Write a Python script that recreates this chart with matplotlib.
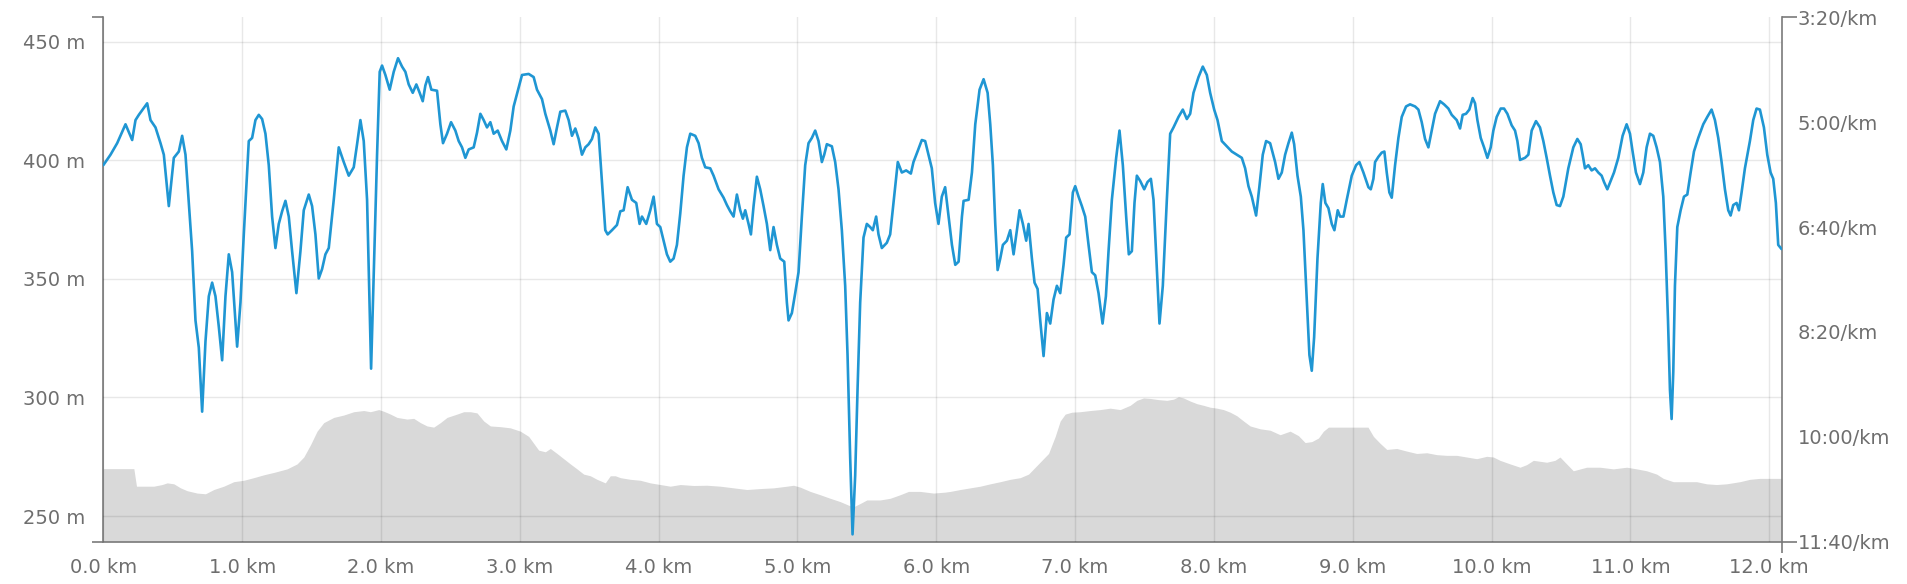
import matplotlib
matplotlib.use("Agg")
import matplotlib.pyplot as plt
import numpy as np
from matplotlib.ticker import FixedLocator, FuncFormatter

# ---------------- data ----------------
# Elevation profile (km, m)
elev_km_a = [0.0, 0.22, 0.239, 0.292, 0.364, 0.424, 0.46, 0.508, 0.556, 0.604,
             0.676, 0.736, 0.796, 0.868, 0.94, 1.012, 1.084, 1.156, 1.228, 1.324,
             1.396, 1.444, 1.492, 1.54, 1.588, 1.66, 1.732, 1.804, 1.876, 1.924,
             1.984, 2.02, 2.068, 2.116, 2.188, 2.236, 2.284, 2.332, 2.38, 2.428,
             2.476, 2.548, 2.596, 2.644, 2.692, 2.74, 2.788, 2.86, 2.932, 3.004,
             3.064]
elev_m_a = [270, 270, 262.6, 262.6, 262.6, 263.3, 264.0, 263.6, 261.9, 260.7,
            259.7, 259.4, 261.2, 262.6, 264.5, 265.1, 266.2, 267.4, 268.4, 269.9,
            272.0, 274.9, 280.0, 285.8, 289.4, 291.6, 292.6, 294.0, 294.5, 294.0,
            294.9, 294.2, 293.0, 291.6, 290.9, 291.2, 289.4, 288.0, 287.5, 289.4,
            291.6, 293.0, 294.0, 294.0, 293.5, 290.1, 288.0, 287.7, 287.2, 285.8,
            283.6]
elev_km_b = [3.136, 3.184, 3.22, 3.268, 3.316, 3.364, 3.412, 3.46, 3.508, 3.556,
             3.616, 3.652, 3.688, 3.724, 3.796, 3.868, 3.94, 4.012, 4.084, 4.156,
             4.252, 4.348, 4.444, 4.54, 4.636, 4.732, 4.828, 4.924, 4.972, 5.02,
             5.092, 5.164, 5.236, 5.308, 5.368, 5.404, 5.452, 5.50, 5.596, 5.668,
             5.74, 5.80, 5.884, 5.98, 6.064]
elev_m_b = [277.8, 277.1, 278.5, 276.4, 274.2, 272.0, 269.9, 267.7, 267.0, 265.5,
            264.0, 267.0, 267.0, 266.2, 265.5, 265.1, 264.0, 263.3, 262.6, 263.3,
            262.9, 263.0, 262.6, 261.9, 261.2, 261.6, 261.9, 262.6, 263.0, 262.2,
            260.4, 259.0, 257.5, 256.1, 254.6, 253.9, 255.3, 256.8, 256.8, 257.5,
            259.0, 260.4, 260.4, 259.7, 260.1]
elev_km_c = [6.101, 6.173, 6.245, 6.317, 6.389, 6.461, 6.533, 6.605, 6.665, 6.713,
             6.761, 6.809, 6.857, 6.893, 6.929, 6.977, 7.037, 7.109, 7.181, 7.253,
             7.325, 7.397, 7.445, 7.493, 7.541, 7.601, 7.661, 7.709, 7.745, 7.781,
             7.829, 7.877, 7.925, 7.973, 8.021, 8.069, 8.117, 8.165, 8.213, 8.261,
             8.333, 8.405, 8.477, 8.549, 8.609, 8.657, 8.705, 8.753, 8.789, 8.825,
             8.909, 9.005, 9.11]
elev_m_c = [260.4, 261.2, 261.9, 262.6, 263.6, 264.5, 265.5, 266.2, 267.7, 270.6,
            273.5, 276.4, 283.6, 290.1, 293.0, 293.8, 294.0, 294.5, 294.9, 295.5,
            294.9, 296.7, 298.8, 299.8, 299.6, 299.1, 298.8, 299.3, 300.3, 299.8,
            298.5, 297.4, 296.7, 295.9, 295.5, 294.9, 293.8, 292.3, 290.1, 288.0,
            286.8, 286.2, 284.3, 285.8, 283.9, 281.0, 281.4, 282.9, 285.8, 287.5,
            287.5, 287.5, 287.5]
elev_km_d = [9.149, 9.197, 9.245, 9.317, 9.389, 9.461, 9.533, 9.605, 9.677, 9.749,
             9.821, 9.893, 9.965, 10.013, 10.061, 10.133, 10.205, 10.253, 10.301, 10.397,
             10.457, 10.493, 10.529, 10.589, 10.685, 10.781, 10.877, 10.973, 11.045, 11.117,
             11.189, 11.237, 11.309, 11.405, 11.477, 11.549, 11.621, 11.693, 11.789, 11.861,
             11.933, 12.005, 12.089]
elev_m_d = [283.6, 280.7, 278.1, 278.5, 277.4, 276.4, 276.7, 275.9, 275.6, 275.6,
            274.9, 274.2, 275.2, 274.9, 273.5, 272.0, 270.6, 271.7, 273.5, 272.7,
            273.5, 274.9, 272.7, 269.1, 270.6, 270.6, 269.9, 270.6, 269.9, 269.1,
            267.7, 265.9, 264.5, 264.5, 264.5, 263.6, 263.3, 263.6, 264.5, 265.5,
            265.9, 265.9, 265.9]

# Pace (km, seconds per km)
pace_km_a = [0.00, 0.052, 0.10, 0.16, 0.208, 0.232, 0.256, 0.316, 0.34, 0.376,
             0.412, 0.436, 0.472, 0.508, 0.544, 0.568, 0.592, 0.616, 0.64, 0.664,
             0.688, 0.712, 0.736, 0.76, 0.784, 0.808, 0.832, 0.856, 0.88, 0.904,
             0.928, 0.964, 0.988, 1.012, 1.048, 1.072, 1.096, 1.12, 1.144, 1.168,
             1.192, 1.216, 1.24, 1.264, 1.288, 1.312, 1.336, 1.36, 1.391, 1.42,
             1.444, 1.48, 1.504, 1.528, 1.552, 1.576, 1.60, 1.624, 1.66, 1.696,
             1.732, 1.768, 1.804, 1.828, 1.852, 1.876, 1.90, 1.929, 1.953, 1.972,
             1.991, 2.008, 2.032, 2.063, 2.092, 2.123, 2.152, 2.176, 2.20, 2.229,
             2.255, 2.279, 2.301, 2.32, 2.339, 2.363, 2.404, 2.428, 2.447, 2.476,
             2.505, 2.536, 2.56, 2.584, 2.608, 2.632, 2.668, 2.692, 2.716, 2.74,
             2.764, 2.788, 2.812, 2.841, 2.872, 2.903, 2.932, 2.956, 2.992, 3.016,
             3.064]
pace_s_a = [341, 331, 320, 302, 317, 298, 293, 282, 298, 305,
            320, 331, 380, 334, 328, 313, 331, 377, 423, 489,
            515, 576, 509, 466, 453, 466, 495, 527, 466, 426,
            443, 514, 472, 407, 318, 315, 298, 293, 297, 311,
            341, 390, 420, 397, 385, 375, 390, 423, 463, 423,
            384, 369, 380, 407, 449, 440, 426, 420, 374, 324,
            338, 351, 343, 321, 298, 318, 374, 535, 423, 331,
            252, 246, 255, 269, 252, 239, 247, 252, 264, 272,
            264, 272, 280, 265, 257, 269, 270, 302, 320, 311,
            300, 308, 318, 324, 334, 326, 324, 310, 292, 298,
            305, 300, 311, 308, 318, 326, 308, 285, 267, 255,
            254]
pace_km_b = [3.10, 3.124, 3.16, 3.184, 3.22, 3.244, 3.268, 3.292, 3.328, 3.352,
             3.376, 3.40, 3.424, 3.448, 3.472, 3.496, 3.52, 3.544, 3.568, 3.592,
             3.616, 3.633, 3.664, 3.70, 3.724, 3.748, 3.777, 3.808, 3.839, 3.863,
             3.88, 3.911, 3.94, 3.964, 3.988, 4.012, 4.036, 4.06, 4.084, 4.108,
             4.132, 4.156, 4.18, 4.204, 4.228, 4.264, 4.288, 4.312, 4.336, 4.372,
             4.396, 4.432, 4.468, 4.492, 4.516, 4.54, 4.564, 4.588, 4.607, 4.624,
             4.648, 4.665, 4.684, 4.708, 4.732, 4.756, 4.78, 4.804, 4.828, 4.852,
             4.876, 4.905, 4.924, 4.936, 4.96, 4.984, 5.008, 5.032, 5.056, 5.08,
             5.104, 5.128, 5.152, 5.176, 5.193, 5.212, 5.248, 5.272, 5.296, 5.32,
             5.344, 5.361, 5.38, 5.397, 5.416, 5.433, 5.452, 5.476, 5.50, 5.524,
             5.543, 5.567, 5.584, 5.608, 5.644, 5.668, 5.692, 5.723, 5.752, 5.783,
             5.817, 5.836, 5.865, 5.896, 5.92, 5.944, 5.968, 5.992, 6.016, 6.04,
             6.064]
pace_s_b = [257, 269, 278, 292, 308, 321, 305, 290, 289, 298,
            313, 306, 316, 331, 324, 321, 316, 305, 311, 357,
            403, 407, 403, 398, 385, 384, 362, 374, 377, 397,
            390, 397, 384, 371, 397, 400, 413, 426, 433, 430,
            417, 387, 351, 324, 311, 313, 320, 334, 343, 344,
            351, 364, 372, 379, 385, 390, 369, 384, 392, 384,
            397, 407, 380, 352, 364, 380, 397, 422, 400, 417,
            430, 433, 472, 489, 482, 463, 443, 390, 341, 320,
            315, 308, 318, 338, 331, 321, 323, 338, 364, 403,
            456, 522, 620, 693, 637, 555, 472, 410, 397, 400,
            403, 390, 407, 420, 415, 407, 377, 338, 348, 346,
            349, 338, 328, 317, 318, 331, 344, 377, 397, 371,
            362]
pace_km_c = [6.113, 6.137, 6.161, 6.185, 6.197, 6.233, 6.257, 6.281, 6.312, 6.341,
             6.37, 6.389, 6.408, 6.425, 6.442, 6.461, 6.48, 6.509, 6.533, 6.557,
             6.581, 6.60, 6.624, 6.648, 6.665, 6.689, 6.708, 6.73, 6.749, 6.773,
             6.797, 6.821, 6.845, 6.869, 6.893, 6.917, 6.936, 6.96, 6.984, 7.001,
             7.025, 7.049, 7.073, 7.097, 7.121, 7.145, 7.169, 7.198, 7.222, 7.241,
             7.265, 7.296, 7.32, 7.344, 7.368, 7.387, 7.409, 7.428, 7.445, 7.469,
             7.498, 7.522, 7.546, 7.565, 7.589, 7.608, 7.632, 7.661, 7.685, 7.709,
             7.745, 7.776, 7.805, 7.829, 7.853, 7.889, 7.92, 7.949, 7.973, 8.002,
             8.026, 8.057, 8.093, 8.129, 8.165, 8.201, 8.225, 8.249, 8.273, 8.304,
             8.328, 8.352, 8.376, 8.405, 8.441, 8.465, 8.489, 8.513, 8.537, 8.561,
             8.578, 8.602, 8.626, 8.645, 8.664, 8.688, 8.705, 8.722, 8.746, 8.77,
             8.784, 8.803, 8.825, 8.849, 8.868, 8.892, 8.909, 8.933, 8.957, 8.993,
             9.024, 9.048, 9.077, 9.113]
pace_s_c = [417, 436, 433, 390, 375, 374, 348, 302, 269, 259,
            272, 302, 341, 397, 441, 430, 417, 413, 403, 426,
            403, 384, 397, 413, 397, 430, 453, 459, 489, 523,
            482, 492, 469, 456, 463, 436, 410, 407, 367, 361,
            371, 380, 390, 417, 443, 446, 463, 492, 466, 423,
            374, 334, 308, 341, 390, 426, 423, 377, 351, 356,
            364, 357, 354, 374, 440, 492, 456, 374, 311, 305,
            295, 288, 297, 292, 272, 257, 247, 255, 272, 288,
            298, 318, 323, 328, 331, 334, 344, 361, 371, 389,
            361, 331, 318, 320, 338, 354, 348, 331, 320, 310,
            321, 351, 371, 403, 456, 522, 537, 505, 430, 377,
            359, 377, 382, 397, 403, 384, 390, 390, 374, 351,
            341, 338, 348, 362]
pace_km_d = [9.13, 9.149, 9.161, 9.185, 9.209, 9.228, 9.245, 9.264, 9.281, 9.305,
             9.329, 9.353, 9.384, 9.413, 9.449, 9.473, 9.497, 9.521, 9.545, 9.569,
             9.593, 9.629, 9.658, 9.689, 9.713, 9.749, 9.773, 9.792, 9.816, 9.84,
             9.864, 9.881, 9.898, 9.922, 9.946, 9.97, 9.994, 10.013, 10.037, 10.066,
             10.09, 10.114, 10.145, 10.169, 10.186, 10.205, 10.241, 10.265, 10.289, 10.32,
             10.349, 10.373, 10.397, 10.421, 10.445, 10.469, 10.493, 10.517, 10.553, 10.589,
             10.618, 10.642, 10.656, 10.673, 10.697, 10.721, 10.745, 10.769, 10.793, 10.81,
             10.834, 10.858, 10.882, 10.913, 10.944, 10.973, 10.997, 11.016, 11.04, 11.069,
             11.093, 11.117, 11.141, 11.165, 11.189, 11.213, 11.237, 11.254, 11.271, 11.285,
             11.297, 11.309, 11.321, 11.338, 11.362, 11.386, 11.41, 11.434, 11.458, 11.489,
             11.525, 11.554, 11.585, 11.609, 11.633, 11.657, 11.681, 11.705, 11.722, 11.741,
             11.765, 11.782, 11.801, 11.825, 11.861, 11.885, 11.909, 11.933, 11.962, 11.986,
             12.01, 12.029, 12.048, 12.065, 12.089]
pace_s_d = [364, 354, 338, 333, 329, 328, 348, 367, 372, 341,
            315, 295, 285, 283, 285, 288, 300, 316, 324, 308,
            292, 280, 283, 287, 293, 298, 306, 293, 292, 288,
            277, 282, 298, 315, 324, 334, 324, 308, 295, 287,
            287, 292, 303, 308, 318, 336, 334, 331, 308, 299,
            305, 318, 334, 351, 367, 379, 380, 371, 344, 324,
            316, 321, 331, 344, 341, 346, 344, 348, 351, 357,
            364, 356, 348, 334, 313, 302, 311, 328, 348, 359,
            348, 324, 311, 313, 324, 338, 371, 423, 489, 555,
            583, 538, 456, 400, 384, 371, 369, 348, 328, 315,
            302, 295, 288, 298, 315, 338, 364, 384, 389, 379,
            377, 384, 367, 344, 318, 298, 287, 288, 305, 331,
            348, 354, 377, 417, 421]

km_ticks = [0, 1, 2, 3, 4, 5, 6, 7, 8, 9, 10, 11, 12]
elev_ticks = [250, 300, 350, 400, 450]
pace_ticks = [300, 400, 500, 600]       # 5:00 .. 10:00
pace_end_ticks = [200, 700]             # 3:20 and 11:40

# ---------------- figure ----------------
elev_km = np.concatenate([elev_km_a, elev_km_b, elev_km_c, elev_km_d])
elev_m = np.concatenate([elev_m_a, elev_m_b, elev_m_c, elev_m_d])
pace_km = np.concatenate([pace_km_a, pace_km_b, pace_km_c, pace_km_d])
pace_s = np.concatenate([pace_s_a, pace_s_b, pace_s_c, pace_s_d])

W, H = 1908, 584
fig = plt.figure(figsize=(W / 100, H / 100), dpi=100)
fig.patch.set_facecolor('white')
L, R, T, B = 103.3, 1781.7, 17.3, 541.7
ax = fig.add_axes([L / W, (H - B) / H, (R - L) / W, (B - T) / H])

YMIN, YMAX = 239.2, 460.3
XMAX = 12.09
TXT = '#6e6e6e'
AXC = '#7a7a7a'
FS = 14

ax.fill_between(elev_km, elev_m, YMIN, color='#d9d9d9', lw=0, zorder=1)
ax.set_xlim(0, XMAX)
ax.set_ylim(YMIN, YMAX)
ax.set_axisbelow(False)
ax.xaxis.set_major_locator(FixedLocator(km_ticks))
ax.yaxis.set_major_locator(FixedLocator(elev_ticks))
ax.xaxis.set_major_formatter(FuncFormatter(lambda v, p: f"{v:.1f} km"))
ax.yaxis.set_major_formatter(FuncFormatter(lambda v, p: f"{v:.0f} m"))
ax.grid(True, which='major', color='black', alpha=0.09, lw=1.0)

ax.tick_params(axis='both', which='major', length=0, labelsize=FS, labelcolor=TXT)
ax.tick_params(axis='y', which='major', pad=13)
ax.tick_params(axis='x', which='major', pad=12)
ax.yaxis.set_minor_locator(FixedLocator([YMIN, YMAX]))
ax.xaxis.set_minor_locator(FixedLocator([0, XMAX]))
ax.tick_params(axis='both', which='minor', length=8, width=1.2, color=AXC,
               direction='out')

for s in ['top', 'right']:
    ax.spines[s].set_visible(False)
for s in ['left', 'bottom']:
    ax.spines[s].set_color(AXC)
    ax.spines[s].set_linewidth(1.2)

ax2 = ax.twinx()
ax2.set_ylim(700, 200)
ax2.plot(pace_km, pace_s, color='#1f96d3', lw=1.9, solid_joinstyle='round',
         solid_capstyle='round', zorder=3)

def pace_fmt(v, p):
    v = int(round(v))
    return f"{v // 60}:{v % 60:02d}/km"

ax2.yaxis.set_major_locator(FixedLocator(pace_ticks))
ax2.yaxis.set_minor_locator(FixedLocator(pace_end_ticks))
ax2.yaxis.set_major_formatter(FuncFormatter(pace_fmt))
ax2.yaxis.set_minor_formatter(FuncFormatter(pace_fmt))
ax2.tick_params(axis='y', which='major', length=0, pad=11.5, labelsize=FS,
                labelcolor=TXT)
ax2.tick_params(axis='y', which='minor', length=10.8, width=1.2, pad=0.8,
                color=AXC, labelsize=FS, labelcolor=TXT, direction='out')
for s in ['top', 'left', 'bottom']:
    ax2.spines[s].set_visible(False)
ax2.spines['right'].set_color(AXC)
ax2.spines['right'].set_linewidth(1.2)

fig.savefig('out.png', dpi=100, facecolor='white')
